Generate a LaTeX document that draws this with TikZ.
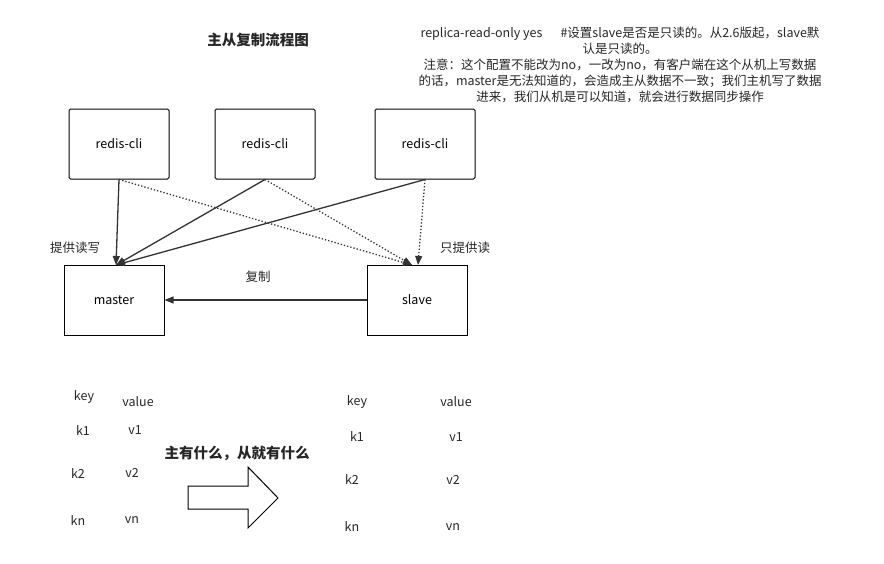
\documentclass[tikz,border=0pt]{standalone}
\usepackage{fontspec}
\setmainfont{Noto Sans CJK SC}
\usetikzlibrary{arrows.meta}
\begin{document}
\begin{tikzpicture}[x=1pt,y=-1pt,font=\fontsize{12.5}{16}\selectfont,
 box/.style={draw,line width=1pt,minimum width=100pt,minimum height=70pt,inner sep=0,rounded corners=1.5pt},
 sq/.style={draw,line width=1pt,minimum width=100pt,minimum height=70pt,inner sep=0},
 sol/.style={line width=1.3pt,draw=black!80,-{Triangle[length=9pt,width=7pt]}},
 dot/.style={line width=1.3pt,draw=black!80,dotted,-{Triangle[length=9pt,width=7pt]}},
 t/.style={text=black!85}]
\useasboundingbox (0,0) rectangle (884,563);
\node[box] (c1) at (119,144) {redis-cli};
\node[box] (c2) at (265,144) {redis-cli};
\node[box] (c3) at (425,144) {redis-cli};
\node[sq] (m) at (114,300) {master};
\node[sq] (s) at (417,300) {slave};
\coordinate (mt) at (116,265);
\coordinate (st) at (412,265);
\coordinate (st3) at (418,265);
\draw[sol] (c1.south) -- (mt);
\draw[sol] (c2.south) -- (mt);
\draw[sol] (c3.south) -- (mt);
\draw[dot] (c1.south) -- (st);
\draw[dot] (c2.south) -- (st);
\draw[dot] (c3.south) -- (st3);
\draw[sol] (s.west) -- (m.east);
\node[t] (l1) at (75,248) {提供读写};
\node[t] (l2) at (465,248) {只提供读};
\node[t] (l3) at (258,277) {复制};
\node[t,font=\fontsize{14.5}{17}\selectfont\bfseries] (ti) at (258,40) {主从复制流程图};
\node[t,align=center] (note) at (620,65) {replica-read-only yes\quad\ \ \#设置slave是否是只读的。从2.6版起，slave默\\认是只读的。\\注意：这个配置不能改为no，一改为no，有客户端在这个从机上写数据\\的话，master是无法知道的，会造成主从数据不一致；我们主机写了数据\\进来，我们从机是可以知道，就会进行数据同步操作};
\foreach \n/\x/\y/\s in {a/84/397/key,b/138/402/value,c/83/431/k1,d/135/430/v1,e/78/474/k2,f/132/473/v2,g/78/521/kn,h/132/520/vn,
 i/357/402/key,j/456/402/value,k/357/437/k1,l/456/437/v1,m2/352/480/k2,n/453/480/v2,o/352/527/kn,p/453/527/vn}
 \node[t] (tb\n) at (\x,\y) {\s};
\node[t,font=\fontsize{14.5}{17}\selectfont\bfseries] (mid) at (237,453) {主有什么，从就有什么};
\draw[line width=1pt,fill=white] (188,486)--(248,486)--(248,467)--(278,498)--(248,528)--(248,509)--(188,509)--cycle;
\end{tikzpicture}
\end{document}
